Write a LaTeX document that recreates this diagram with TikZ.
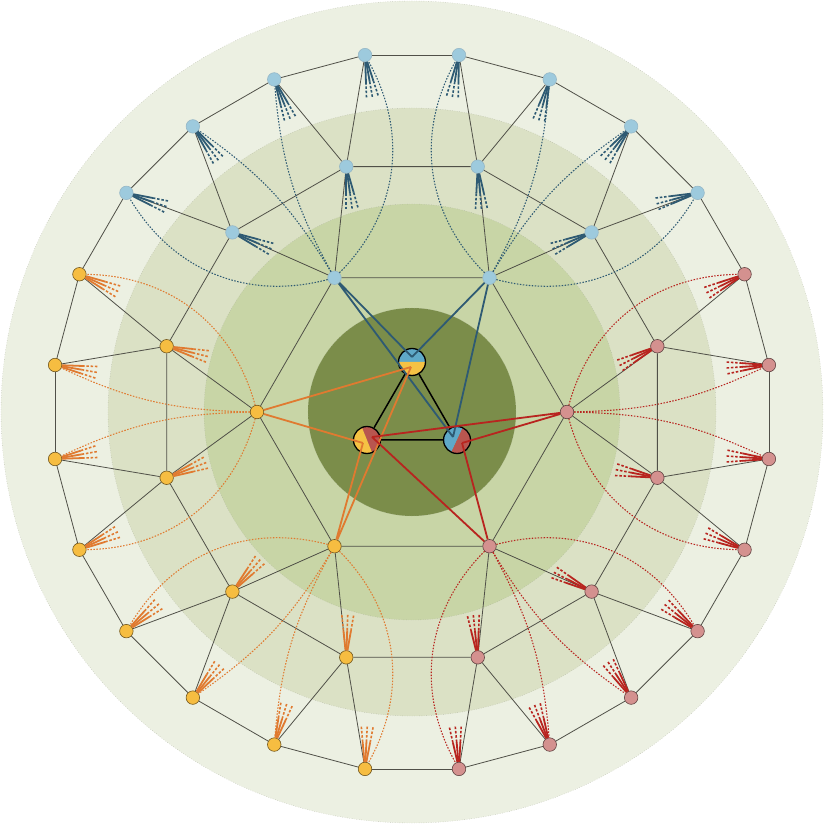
\documentclass[tikz,border=0pt]{standalone}
\usetikzlibrary{calc}
\definecolor{discA}{HTML}{ECF0E2}
\definecolor{discB}{HTML}{DBE1C5}
\definecolor{discC}{HTML}{C8D5A6}
\definecolor{discD}{HTML}{7B8D4A}
\definecolor{discline}{HTML}{A8AC9C}
\definecolor{bluefill}{HTML}{9DCADD}
\definecolor{blueline}{HTML}{2E5A73}
\definecolor{orangefill}{HTML}{F6BD41}
\definecolor{orangeline}{HTML}{E07A30}
\definecolor{redfill}{HTML}{D4918F}
\definecolor{redline}{HTML}{B8241F}
\definecolor{cblue}{HTML}{5FA9C8}
\definecolor{cyellow}{HTML}{F5C244}
\definecolor{cred}{HTML}{B8564F}
\definecolor{edgegray}{HTML}{505048}
\newcommand\fanlines[3]{%
  \foreach \fd in {-8,0,8}{%
    \draw[#3, fansolid] ($(#1.center)+({#2+\fd}:7)$) -- ($(#1.center)+({#2+\fd}:27)$);
    \draw[#3, fandash] ($(#1.center)+({#2+\fd}:27)$) -- ($(#1.center)+({#2+\fd}:43)$);
  }}
\newcommand\halfdisc[4]{% centre, facing angle, colour, radius
  \fill[#3] ($(#1)+({#2-90}:#4)$) arc[start angle={#2-90}, delta angle=180, radius=#4] -- cycle;}
\begin{document}
\begin{tikzpicture}[x=1pt,y=1pt,
  vnode/.style={circle, minimum size=13.5pt, inner sep=0pt, line width=0.6pt},
  vb/.style={vnode, fill=bluefill, draw=bluefill!75!gray},
  vo/.style={vnode, fill=orangefill, draw=orangefill!45!black},
  vr/.style={vnode, fill=redfill, draw=redfill!45!black},
  cnode/.style={circle, minimum size=27pt, inner sep=0pt, draw=black, line width=1.3pt},
  gedge/.style={draw=edgegray, line width=0.8pt},
  curveline/.style={line width=1.05pt, dash pattern=on 1.5pt off 1.5pt},
  fansolid/.style={line width=1.8pt},
  fandash/.style={line width=1.6pt, dash pattern=on 2.5pt off 1.8pt},
  cline/.style={line width=1.8pt},
  discedge/.style={draw=discline, line width=0.4pt, dotted}]
\useasboundingbox (-412,-412) rectangle (412,412);
% discs
\fill[discA] (0,0) circle[radius=411]; \draw[discedge] (0,0) circle[radius=411];
\fill[discB] (0,0) circle[radius=304]; \draw[discedge] (0,0) circle[radius=304];
\fill[discC] (0,0) circle[radius=208]; \draw[discedge] (0,0) circle[radius=208];
\fill[discD] (0,0) circle[radius=104]; \draw[discedge] (0,0) circle[radius=104];
% outer ring nodes
\foreach \i/\s in {0/vr,1/vr,2/vb,3/vb,4/vb,5/vb,6/vb,7/vb,8/vb,9/vb,10/vo,11/vo,12/vo,13/vo,14/vo,15/vo,16/vo,17/vo,18/vr,19/vr,20/vr,21/vr,22/vr,23/vr}
  \node[\s] (o\i) at ({7.5+15*\i}:360) {};
% middle ring nodes
\foreach \j/\s in {0/vr,1/vb,2/vb,3/vb,4/vb,5/vo,6/vo,7/vo,8/vo,9/vr,10/vr,11/vr}
  \node[\s] (m\j) at ({15+30*\j}:254) {};
% hexagon nodes
\foreach \k/\s in {0/vr,1/vb,2/vb,3/vo,4/vo,5/vr}
  \node[\s] (h\k) at ({60*\k}:155) {};
% grey edges
\foreach \k in {0,...,5}{%
  \pgfmathtruncatemacro\kn{mod(\k+1,6)}%
  \pgfmathtruncatemacro\ma{2*\k}%
  \pgfmathtruncatemacro\mb{mod(2*\k+11,12)}%
  \draw[gedge] (h\k) -- (h\kn) (h\k) -- (m\ma) (h\k) -- (m\mb);}
\foreach \j in {0,...,11}{%
  \pgfmathtruncatemacro\jn{mod(\j+1,12)}%
  \pgfmathtruncatemacro\oa{2*\j}%
  \pgfmathtruncatemacro\ob{2*\j+1}%
  \draw[gedge] (m\j) -- (m\jn) (m\j) -- (o\oa) (m\j) -- (o\ob);}
\foreach \i in {0,...,23}{%
  \pgfmathtruncatemacro\in{mod(\i+1,24)}%
  \draw[gedge] (o\i) -- (o\in);}
% dotted curves from hexagon nodes to outer nodes
\foreach \k/\a/\b/\c/\d/\col in {0/22/23/0/1/redline,1/2/3/4/5/blueline,2/6/7/8/9/blueline,3/10/11/12/13/orangeline,4/14/15/16/17/orangeline,5/18/19/20/21/redline}{%
  \draw[curveline, \col] (h\k) to[bend right=37] (o\a);
  \draw[curveline, \col] (h\k) to[bend left=12] (o\b);
  \draw[curveline, \col] (h\k) to[bend right=12] (o\c);
  \draw[curveline, \col] (h\k) to[bend left=37] (o\d);}
% fans
\foreach \i/\a/\col in {0/184/redline,1/206/redline,2/195/blueline,3/232/blueline,4/255/blueline,5/261/blueline,6/280/blueline,7/292/blueline,8/307/blueline,9/341/blueline,10/336/orangeline,11/350/orangeline,12/10/orangeline,13/25/orangeline,14/40/orangeline,15/51/orangeline,16/73/orangeline,17/87/orangeline,18/95/redline,19/111/redline,20/123/redline,21/141/redline,22/157/redline,23/176/redline}
  {\fanlines{o\i}{\a}{\col}}
\foreach \j/\a/\col in {0/207/redline,1/203/blueline,2/275/blueline,3/278/blueline,4/337/blueline,5/346/orangeline,6/21/orangeline,7/49/orangeline,8/88/orangeline,9/96/redline,10/153/redline,11/169/redline}
  {\fanlines{m\j}{\a}{\col}}
% centre triangle
\coordinate (pt) at (0,50);
\coordinate (pl) at (210:52);
\coordinate (pr) at (330:52);
\coordinate (pl) at ($(pl)+(0,-2)$);
\coordinate (pr) at ($(pr)+(0,-2)$);
\halfdisc{pt}{90}{cblue}{13.5}
\halfdisc{pt}{270}{cyellow}{13.5}
\halfdisc{pl}{22}{cred}{13.5}
\halfdisc{pl}{202}{cyellow}{13.5}
\halfdisc{pr}{155}{cblue}{13.5}
\halfdisc{pr}{335}{cred}{13.5}
\node[cnode] (ctop) at (pt) {};
\node[cnode] (cleft) at (pl) {};
\node[cnode] (cright) at (pr) {};
\draw[black, line width=1.5pt] (ctop) -- (cleft) (cleft) -- (cright) (cright) -- (ctop);
\coordinate (tb) at ($(pt)+(0,5)$);
\coordinate (ty) at ($(pt)+(-1,-5)$);
\coordinate (lr) at ($(pl)+(5,3)$);
\coordinate (ly) at ($(pl)+(-4,-3)$);
\coordinate (rb) at ($(pr)+(-4,3)$);
\coordinate (rr) at ($(pr)+(5,-3)$);
\draw[cline, blueline] (h1) -- (tb) (h1) -- (rb) (h2) -- (tb) (h2) -- (rb);
\draw[cline, orangeline] (h3) -- (ty) (h3) -- (ly) (h4) -- (ty) (h4) -- (ly);
\draw[cline, redline] (h0) -- (lr) (h0) -- (rr) (h5) -- (lr) (h5) -- (rr);
\end{tikzpicture}
\end{document}
